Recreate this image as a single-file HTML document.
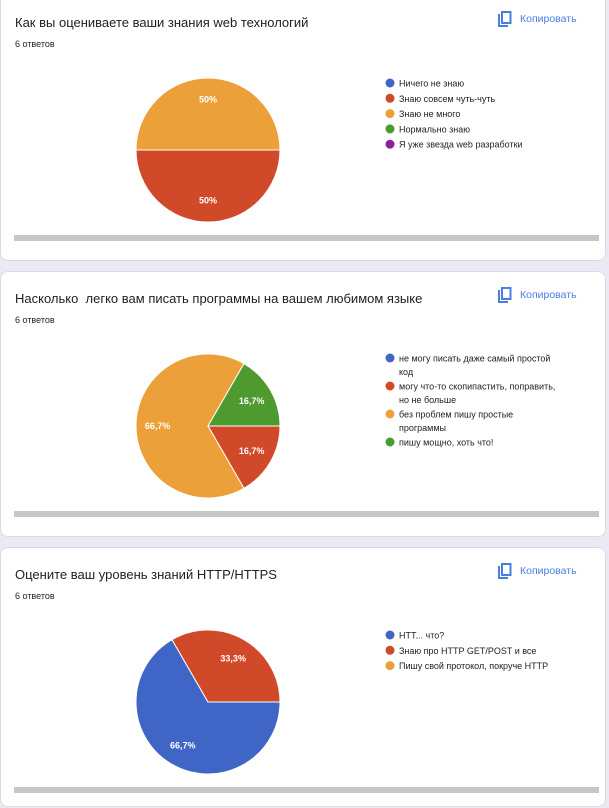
<!DOCTYPE html>
<html><head><meta charset="utf-8">
<style>
html,body{margin:0;width:609px;height:808px;overflow:hidden}
body{background:#ede9f4;font-family:"Liberation Sans","Noto Sans CJK SC",sans-serif;position:relative}
.card{position:absolute;left:0;width:606px;background:#fff;border:1px solid #dadce0;border-radius:8px;box-sizing:border-box;overflow:hidden}
.title{position:absolute;left:14px;font-size:13px;color:#202124;white-space:pre}
.count{position:absolute;left:14px;font-size:9px;color:#202124}
.copy{position:absolute;left:497px;font-size:10.5px;color:#4a7ee0;display:flex;align-items:center;gap:8px}
.bar{position:absolute;left:13px;width:585px;height:6px;background:#c6c6c6}
svg{position:absolute;left:0;top:0}
</style></head><body>
<div id="root"></div>
<script>
const titles=["Как вы оцениваете ваши знания web технологий","Насколько  легко вам писать программы на вашем любимом языке","Оцените ваш уровень знаний HTTP/HTTPS"];
const labels1=["Ничего не знаю","Знаю совсем чуть-чуть","Знаю не много","Нормально знаю","Я уже звезда web разработки"];
const values1=[0,3,3,0,0];
const labels2=[["не могу писать даже самый простой","код"],["могу что-то скопипастить, поправить,","но не больше"],["без проблем пишу простые","программы"],["пишу мощно, хоть что!"]];
const values2=[0,1,4,1];
const labels3=["НТТ... что?","Знаю про HTTP GET/POST и все","Пишу свой протокол, покруче HTTP"];
const values3=[4,2,0];
const colors=["#3f66c6","#d04a2a","#eba03a","#4e9a2f","#8e1f9a"];
const charts=[{l:labels1.map(x=>[x]),v:values1},{l:labels2,v:values2},{l:labels3.map(x=>[x]),v:values3}];
const root=document.getElementById('root');
const NS="http://www.w3.org/2000/svg";
const tops=[-10,271,547];
const heights=[271,266,260];
charts.forEach((c,i)=>{
  const card=document.createElement('div');
  card.className='card';
  
  
  const top=tops[i];card.style.top=top+'px';card.style.height=heights[i]+'px';
  const off=i*276-top;
  card.innerHTML=`<div class="title" style="top:${14+off}px">${titles[i]}</div>
<div class="count" style="top:${38+off}px">6 ответов</div>
<div class="copy" style="top:${10+off}px"><svg style="position:static" width="14" height="16" viewBox="0 0 14 16"><path d="M1 3v12h9" fill="none" stroke="#4a7ee0" stroke-width="2"/><rect x="4" y="1" width="8.5" height="11" fill="none" stroke="#4a7ee0" stroke-width="2"/></svg>Копировать</div>`;
  const b=document.createElement('div');b.className='bar';b.style.top=(234+off)+'px';
  
  
  card.appendChild(b);
  const svg=document.createElementNS(NS,'svg');
  svg.setAttribute('width','606');svg.setAttribute('height',i==2?'250':'260');
  svg.style.top=(off-1)+'px';svg.style.left='-1px';
  
  
  const cx=208,cy=150,r=72;
  const total=c.v.reduce((a,b)=>a+b,0);
  let a0=0;
  c.v.forEach((v,k)=>{
    if(!v)return;
    const a1=a0+v/total*2*Math.PI;
    let el;
    if(v==total){el=document.createElementNS(NS,'circle');el.setAttribute('cx',cx);el.setAttribute('cy',cy);el.setAttribute('r',r);}
    else{el=document.createElementNS(NS,'path');
      const large=(a1-a0)>Math.PI?1:0;
      el.setAttribute('d',`M${cx},${cy}L${cx+r*Math.cos(a0)},${cy+r*Math.sin(a0)}A${r},${r} 0 ${large} 1 ${cx+r*Math.cos(a1)},${cy+r*Math.sin(a1)}Z`);}
    el.setAttribute('fill',colors[k]);el.setAttribute('stroke','#fff');el.setAttribute('stroke-width','1');
    
    
    svg.appendChild(el);
    const am=(a0+a1)/2;
    const t=document.createElementNS(NS,'text');
    t.setAttribute('x',cx+r*0.7*Math.cos(am));t.setAttribute('y',cy+r*0.7*Math.sin(am)+3);
    t.setAttribute('text-anchor','middle');t.setAttribute('font-size','9');t.setAttribute('font-weight','bold');t.setAttribute('fill','#fff');
    const p=v/total*100;t.textContent=(Math.abs(p-Math.round(p))<0.01?Math.round(p):p.toFixed(1).replace('.',','))+'%';
    
    
    svg.appendChild(t);
    a0=a1;
  });
  let y=i==1?82:83;
  c.l.forEach((lines,k)=>{
    const d=document.createElementNS(NS,'circle');
    d.setAttribute('cx',390);d.setAttribute('cy',y);d.setAttribute('r',4.5);d.setAttribute('fill',colors[k]);
    
    
    svg.appendChild(d);
    lines.forEach((ln,j)=>{
      const t=document.createElementNS(NS,'text');
      t.setAttribute('x',399);t.setAttribute('y',y+3.5+j*13.5);t.setAttribute('font-size','9');t.setAttribute('fill','#222');
      t.textContent=ln;
      
      
      svg.appendChild(t);
    });
    y+= lines.length==2?28:15.3;
  });
  card.appendChild(svg);
  root.appendChild(card);
});
</script>
</body></html>
